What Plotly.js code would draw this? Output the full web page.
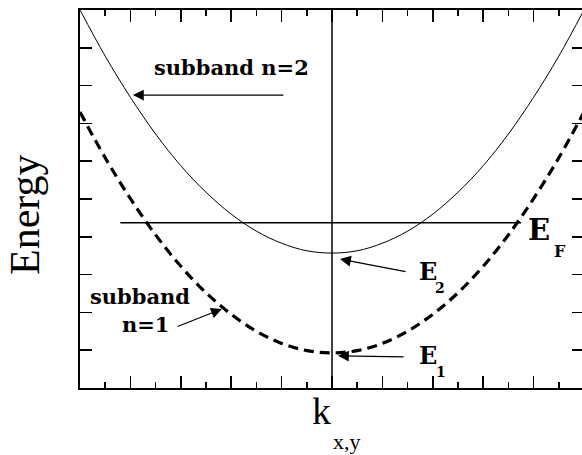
<!DOCTYPE html>
<html>
<head>
<meta charset="utf-8">
<script src="https://cdn.plot.ly/plotly-3.0.1.min.js"></script>
<style>
  html, body { margin: 0; padding: 0; overflow: hidden; background: #fff; }
</style>
</head>
<body>
<div id="plot"></div>
<script>
// wave vector k (arb. units) and the two subband energies
let kVals = [-10, -9, -8, -7, -6, -5, -4, -3, -2, -1, 0, 1, 2, 3, 4, 5, 6, 7, 8, 9, 10];
let subband2 = [10.0, 8.78, 7.69, 6.72, 5.88, 5.18, 4.60, 4.15, 3.83, 3.63, 3.57, 3.63, 3.83, 4.15, 4.60, 5.18, 5.88, 6.72, 7.69, 8.78, 10.0];
let subband1 = [7.30, 6.09, 5.01, 4.05, 3.22, 2.52, 1.95, 1.50, 1.18, 0.99, 0.93, 0.99, 1.18, 1.50, 1.95, 2.52, 3.22, 4.05, 5.01, 6.09, 7.30];

// Fermi level line and the k = 0 line
let fermiK = [-8.4, 7.5];
let fermiE = [4.37, 4.37];
let zeroK = [0, 0];
let zeroE = [0, 10];

let serif = "Liberation Serif";
let boldSerif = "DejaVu Serif";

let traces = [
  { x: kVals, y: subband2, mode: "lines", line: { color: "black", width: 1, shape: "spline" }, hoverinfo: "skip" },
  { x: kVals, y: subband1, mode: "lines", line: { color: "black", width: 3.2, shape: "spline", dash: "10px,6px" }, hoverinfo: "skip" },
  { x: fermiK, y: fermiE, mode: "lines", line: { color: "black", width: 1.5 }, hoverinfo: "skip" },
  { x: zeroK, y: zeroE, mode: "lines", line: { color: "black", width: 1.5 }, hoverinfo: "skip" }
];

// arrows: [tailK, tailE, headK, headE]
let arrows = [
  [-1.87, 7.75, -7.90, 7.75],
  [-6.19, 1.61, -4.37, 2.09],
  [2.98, 3.07, 0.32, 3.41],
  [2.90, 0.82, 0.24, 0.85]
];

function label(text, x, y, size, bold, ref) {
  return {
    text: text,
    x: x, y: y, xref: ref || "x", yref: ref || "y",
    showarrow: false,
    font: { family: bold ? boldSerif : serif, size: size, color: "black", weight: bold ? 700 : 400 },
    xanchor: "center", yanchor: "middle"
  };
}

let annotations = [
  label("subband n=2", -3.97, 8.47, 21, true),
  label("subband", -7.62, 2.41, 21, true),
  label("n=1", -7.42, 1.67, 21, true),
  label("E", 3.81, 3.07, 24, true),
  label("2", 4.29, 2.65, 14, true),
  label("E", 3.81, 0.87, 24, true),
  label("1", 4.33, 0.42, 14, true),
  label("E", 8.21, 4.18, 29, true),
  label("F", 9.05, 3.60, 16, true),
  label("k", 0.480, -0.0608, 38, false, "paper"),
  label("x,y", 0.530, -0.142, 22, false, "paper")
];

let energy = label("Energy", -0.109, 0.458, 42, false, "paper");
energy.textangle = -90;
annotations.push(energy);

arrows.forEach(a => {
  annotations.push({
    text: "", x: a[2], y: a[3], ax: a[0], ay: a[1],
    xref: "x", yref: "y", axref: "x", ayref: "y",
    showarrow: true, arrowhead: 2, arrowsize: 1.8, arrowwidth: 1.2, arrowcolor: "black"
  });
});

let axisStyle = {
  showgrid: false, zeroline: false, showticklabels: false,
  showline: true, linecolor: "black", linewidth: 2, mirror: "ticks",
  ticks: "inside", tickcolor: "black", tickwidth: 1.5, ticklen: 12
};

let layout = {
  width: 586, height: 455,
  margin: { l: 80, r: 2, t: 10, b: 67 },
  paper_bgcolor: "white", plot_bgcolor: "white",
  showlegend: false,
  xaxis: Object.assign({}, axisStyle, {
    range: [-10, 10], dtick: 2, tick0: 0,
    minor: { dtick: 1, ticks: "inside", ticklen: 6, tickcolor: "black", tickwidth: 1.5 }
  }),
  yaxis: Object.assign({}, axisStyle, { range: [0, 10], dtick: 1, tick0: 0 }),
  annotations: annotations
};

Plotly.newPlot("plot", traces, layout, { staticPlot: true });
</script>
</body>
</html>
